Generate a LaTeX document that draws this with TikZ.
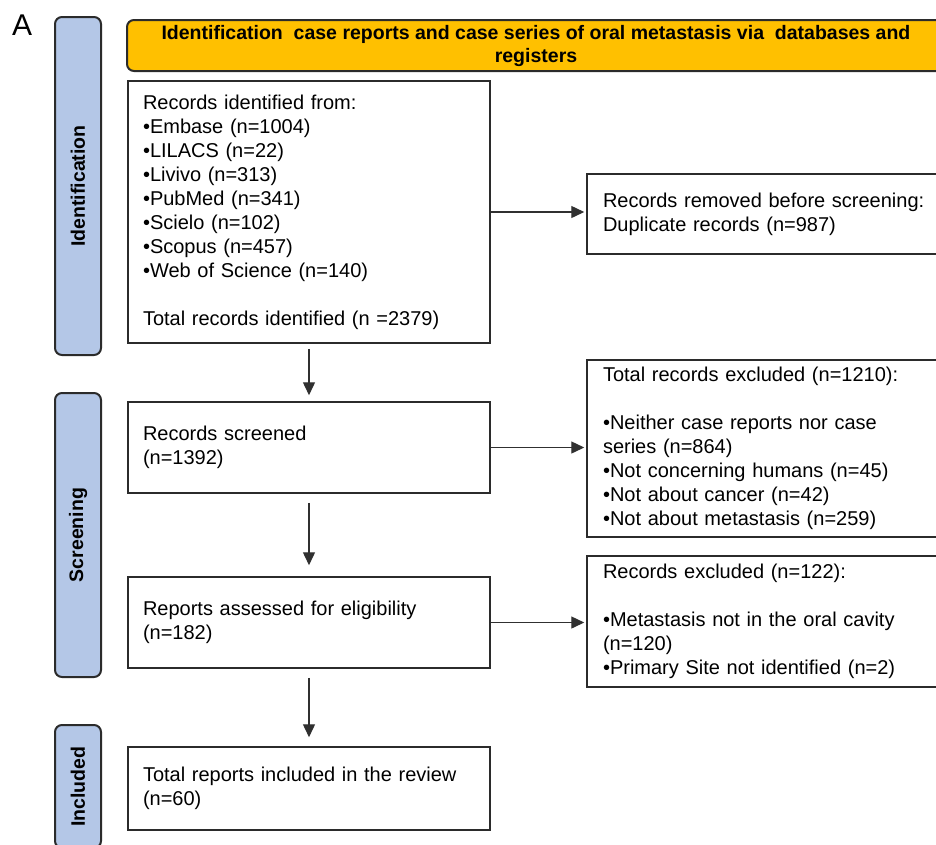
\documentclass[tikz,border=0pt]{standalone}
\usepackage{fontspec}
\setmainfont{Liberation Sans}
\usetikzlibrary{arrows.meta}
\definecolor{sideblue}{HTML}{B4C7E7}
\definecolor{bannergold}{HTML}{FFC000}
\definecolor{edgecol}{HTML}{2B2B2B}
\definecolor{arrcol}{HTML}{303030}
\begin{document}
\begin{tikzpicture}[x=1pt,y=-1pt,
  txt/.style={font=\fontsize{20}{24}\selectfont},
  box/.style={draw=edgecol, line width=1.5pt, fill=white, align=left, inner xsep=15pt, inner ysep=0pt, txt},
  rbox/.style={box, minimum width=358pt, text width=326pt, inner xsep=16pt},
  lbox/.style={box, minimum width=362pt, text width=332pt},
  side/.style={draw=edgecol, line width=2pt, fill=sideblue, rounded corners=7pt, minimum height=46pt, inner sep=0pt, rotate=90, font=\bfseries\fontsize{19.5}{24}\selectfont},
  banner/.style={draw=edgecol, line width=2pt, fill=bannergold, rounded corners=7pt, align=center, inner sep=0pt, font=\bfseries\fontsize{19.5}{23}\selectfont},
  arr/.style={draw=arrcol, line width=1.4pt, -{Triangle[length=13pt,width=12pt]}}
]
\clip (0,0) rectangle (936,844);
\fill[white] (0,0) rectangle (936,844);

\node[anchor=base west, inner sep=0pt, font=\fontsize{30}{30}\selectfont] (lblA) at (12,35) {A};

\node[banner, minimum width=818pt, minimum height=51pt] (banner) at (536,45.5)
  {Identification\ \ case reports and case series of oral metastasis via\ \ databases and\\registers};

\node[side, minimum width=338pt] (sideid) at (78,186) {Identification};
\node[side, minimum width=284pt] (sidescr) at (78,535) {Screening};
\node[side, minimum width=123pt] (sideinc) at (78,786.5) {Included};

\node[lbox, minimum height=262pt] (ident) at (309,212)
  {Records identified from:\\
   •Embase (n=1004)\\
   •LILACS (n=22)\\
   •Livivo (n=313)\\
   •PubMed (n=341)\\
   •Scielo (n=102)\\
   •Scopus (n=457)\\
   •Web of Science (n=140)\\[24pt]
   Total records identified (n =2379)};

\node[rbox, minimum height=80pt] (removed) at (766,214)
  {Records removed before screening:\\Duplicate records (n=987)};

\node[lbox, minimum height=91pt] (screened) at (309,447.5)
  {Records screened\\(n=1392)};

\node[rbox, minimum height=177pt] (excl1) at (766,448.5)
  {Total records excluded (n=1210):\\[24pt]
   •Neither case reports nor case\\
   series (n=864)\\
   •Not concerning humans (n=45)\\
   •Not about cancer (n=42)\\
   •Not about metastasis (n=259)};

\node[lbox, minimum height=91pt] (assessed) at (309,622.5)
  {Reports assessed for eligibility\\(n=182)};

\node[rbox, minimum height=131pt] (excl2) at (766,621.5)
  {Records excluded (n=122):\\[24pt]
   •Metastasis not in the oral cavity\\
   (n=120)\\
   •Primary Site not identified (n=2)};

\node[lbox, minimum height=83pt] (included) at (309,788.5)
  {Total reports included in the review\\(n=60)};

\draw[arr, shorten <=5pt, shorten >=6pt] (ident) -- (screened);
\draw[arr, shorten <=9pt, shorten >=11pt] (screened) -- (assessed);
\draw[arr, shorten <=9pt, shorten >=9pt] (assessed) -- (included);

\draw[arr, shorten >=2pt] (ident.east) -- (ident.east -| removed.west);
\draw[arr, shorten >=2pt] (screened.east) -- (screened.east -| excl1.west);
\draw[arr, shorten >=2pt] (assessed.east) -- (assessed.east -| excl2.west);
\end{tikzpicture}
\end{document}
